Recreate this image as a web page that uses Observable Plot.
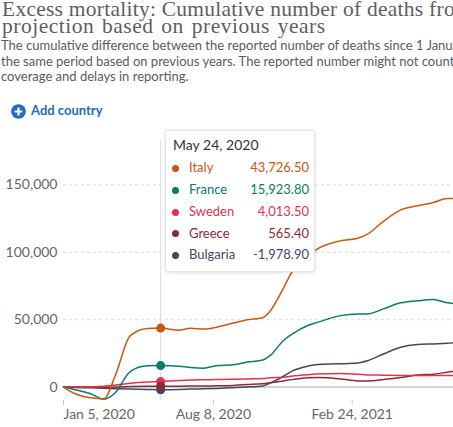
<!DOCTYPE html>
<html>
<head>
<meta charset="utf-8">
<script src="https://cdn.jsdelivr.net/npm/d3@7"></script>
<script src="https://cdn.jsdelivr.net/npm/@observablehq/plot@0.6"></script>
<style>
html, body { margin: 0; padding: 0; background: #fff; width: 453px; height: 427px; overflow: hidden; }
#root { position: relative; width: 453px; height: 427px; overflow: hidden; font-family: Lato, sans-serif; }
.title { position: absolute; left: 2px; top: 0.5px; font-family: "Liberation Serif", serif; font-size: 21.5px; letter-spacing: 0.25px; line-height: 17.3px; color: #5e5e5e; white-space: nowrap; }
.title .l2 { letter-spacing: 0.5px; word-spacing: 2px; }
.subtitle { position: absolute; left: 1px; top: 38.3px; font-size: 13px; line-height: 15.3px; color: #5b5b5b; white-space: nowrap; }
.add { position: absolute; left: 11px; top: 102.9px; font-size: 13px; line-height: 15.6px; color: #1f6bc1; font-weight: bold; white-space: nowrap; }
.add svg { position: absolute; left: 0px; top: 1px; }
.add span { position: absolute; left: 20px; top: 0; }
#chart { position: absolute; left: 0; top: 138px; }
#tip { position: absolute; left: 165px; top: 130px; width: 150px; height: 142px; background: #fff; border: 1px solid #e4e4e4; border-radius: 2px; box-shadow: 0 1px 4px rgba(0,0,0,0.12); box-sizing: border-box; }
#tip .hd { position: absolute; left: 7px; top: 6px; font-size: 14px; line-height: 16.8px; color: #333; white-space: nowrap; }
#tip .nm { position: absolute; left: 23px; font-size: 13px; line-height: 15.6px; white-space: nowrap; }
#tip .vl { position: absolute; right: 5px; font-size: 13px; line-height: 15.6px; white-space: nowrap; text-align: right; }
#tip .dt { position: absolute; left: 6px; width: 7px; height: 7px; border-radius: 50%; }
</style>
</head>
<body>
<div id="root">
  <div class="title">Excess mortality: Cumulative number of deaths from all causes compared to<br><span class="l2">projection based on previous years</span></div>
  <div class="subtitle">The cumulative difference between the reported number of deaths since 1 January 2020 and the projected number of deaths for<br>the same period based on previous years. The reported number might not count all deaths due to incomplete<br>coverage and delays in reporting.</div>
  <div class="add"><svg width="15" height="15" viewBox="0 0 15 15"><circle cx="7.5" cy="7.5" r="7.3" fill="#1f6bc1"/><path d="M7.5 3.6v7.8M3.6 7.5h7.8" stroke="#fff" stroke-width="2.2"/></svg><span>Add country</span></div>
  <div id="chart"></div>
  <div id="tip"></div>
</div>
<script>
const countries = ["Italy", "France", "Sweden", "Greece", "Bulgaria"];
const colors = ["#c8580f", "#0a7b6d", "#e3334c", "#8b2a37", "#3a4b63"];

const dates = ["2020-01-05","2020-01-22","2020-02-13","2020-03-03","2020-03-20","2020-04-10","2020-05-05","2020-05-24","2020-06-19","2020-07-06","2020-07-25","2020-08-14","2020-09-06","2020-09-26","2020-10-18","2020-10-29","2020-11-17","2020-11-30","2020-12-22","2021-01-05","2021-02-07","2021-03-04","2021-03-18","2021-04-10","2021-05-05","2021-05-29","2021-06-21","2021-07-11","2021-07-20"];

const italy    = [0, -5000, -8000, -8800, 9000, 38000, 43500, 43726.5, 42200, 43700, 43000, 44500, 47500, 50000, 51500, 56500, 73500, 86000, 97000, 102500, 108500, 110500, 113500, 123000, 131500, 134500, 137000, 140000, 140000];
const france   = [0, -2000, -5000, -9000, -4000, 11500, 15800, 15923.8, 15500, 14500, 14000, 16000, 16500, 18500, 20000, 23500, 34500, 39500, 45700, 48000, 53000, 54300, 54300, 58000, 62500, 64000, 65000, 62500, 62000];
const sweden   = [0, 0, 200, 600, 1500, 2800, 3700, 4013.5, 4800, 5200, 5400, 5500, 5700, 6000, 6300, 6800, 7200, 8200, 9200, 9600, 10000, 9400, 9000, 8800, 8600, 8500, 8500, 8500, 8500];
const greece   = [0, 100, 0, -200, 0, 300, 500, 565.4, 600, 700, 800, 900, 1200, 1800, 2500, 3200, 4500, 5500, 6800, 7000, 6000, 4500, 4500, 5500, 7000, 9000, 9500, 11000, 11500];
const bulgaria = [0, -300, -600, -900, -1200, -1500, -1800, -1978.9, -1800, -1500, -1300, -1000, -500, 0, 800, 3000, 8000, 12000, 15500, 16800, 17200, 17800, 19500, 24500, 29500, 31500, 32000, 32500, 33000];

const yTicks = [0, 50000, 100000, 150000];
const xTickDates = ["2020-01-05", "2020-08-08", "2021-02-24"];
const hoverDate = "2020-05-24";

const seriesValues = [italy, france, sweden, greece, bulgaria];
const parse = d3.utcParse("%Y-%m-%d");
const rows = [];
countries.forEach((c, i) => {
  dates.forEach((d, j) => rows.push({country: c, date: parse(d), value: seriesValues[i][j]}));
});
const hIdx = dates.indexOf(hoverDate);
const hoverRows = countries.map((c, i) => ({country: c, date: parse(hoverDate), value: seriesValues[i][hIdx]}));
const dotOrder = ["Italy", "France", "Bulgaria", "Sweden", "Greece"];
const hoverDots = dotOrder.map(c => hoverRows.find(r => r.country === c));
const drawOrder = ["Bulgaria", "Greece", "Sweden", "France", "Italy"];
const lineRows = drawOrder.flatMap(c => rows.filter(r => r.country === c));

const fmtDate = d3.utcFormat("%b %-d, %Y");
const xt = xTickDates.map(parse);

const chart = Plot.plot({
  width: 453,
  height: 289,
  marginLeft: 63,
  marginRight: 0,
  marginTop: 2,
  marginBottom: 27,
  style: {fontFamily: "Lato, sans-serif", fontSize: "14px", color: "#666", background: "transparent", overflow: "visible"},
  x: {type: "utc", domain: [parse("2020-01-05"), parse("2021-07-20")]},
  y: {domain: [-10000, 183000]},
  color: {domain: countries, range: colors},
  marks: [
    Plot.gridY(yTicks.filter(t => t !== 0), {stroke: "#d9d9d9", strokeOpacity: 1, strokeDasharray: "3,3"}),
    Plot.ruleY([0], {stroke: "#a8a8a8"}),
    Plot.axisY(yTicks, {tickSize: 0, tickPadding: 6, tickFormat: d3.format(","), label: null, fill: "#666"}),
    Plot.axisX([xt[0]], {tickSize: 5, tickPadding: 4, tickFormat: fmtDate, textAnchor: "start", label: null, stroke: "#c8c8c8", fill: "#666"}),
    Plot.axisX(xt.slice(1), {tickSize: 5, tickPadding: 4, tickFormat: fmtDate, label: null, stroke: "#c8c8c8", fill: "#666"}),
    Plot.ruleX([parse(hoverDate)], {stroke: "#dedede"}),
    Plot.line(lineRows, {x: "date", y: "value", z: "country", stroke: "country", strokeWidth: 1.5, curve: "monotone-x"}),
    Plot.dot(hoverDots, {x: "date", y: "value", fill: "country", r: 4.5, stroke: "none"})
  ]
});
document.getElementById("chart").appendChild(chart);

// Tooltip
const locale = d3.formatLocale({decimal: ".", thousands: ",", grouping: [3], currency: ["$", ""], minus: "-"});
const fmtVal = locale.format(",.2f");
const tip = document.getElementById("tip");
const hd = document.createElement("div");
hd.className = "hd";
hd.textContent = fmtDate(parse(hoverDate));
tip.appendChild(hd);
const sorted = hoverRows.slice().sort((a, b) => b.value - a.value);
sorted.forEach((r, i) => {
  const col = colors[countries.indexOf(r.country)];
  const top = 29.2 + i * 21.8;
  const dt = document.createElement("div");
  dt.className = "dt"; dt.style.top = (top + 4.7) + "px"; dt.style.background = col;
  const nm = document.createElement("div");
  nm.className = "nm"; nm.style.top = top + "px"; nm.style.color = col; nm.textContent = r.country;
  const vl = document.createElement("div");
  vl.className = "vl"; vl.style.top = top + "px"; vl.style.color = col; vl.textContent = fmtVal(r.value);
  tip.appendChild(dt); tip.appendChild(nm); tip.appendChild(vl);
});
</script>
</body>
</html>
